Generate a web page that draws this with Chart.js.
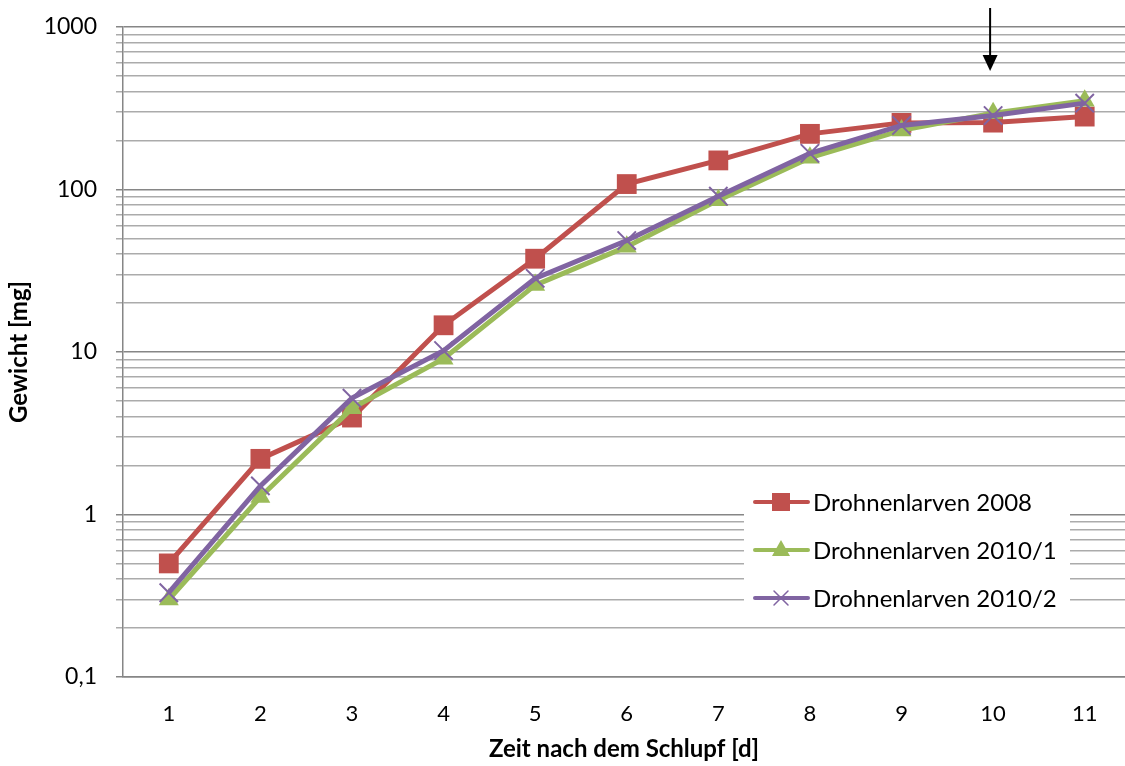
<!DOCTYPE html>
<html>
<head>
<meta charset="utf-8">
<script src="https://cdn.jsdelivr.net/npm/chart.js@4.4.1/dist/chart.umd.min.js"></script>
<style>
  html, body { margin: 0; padding: 0; background: #fff; overflow: hidden; }
</style>
</head>
<body>
<canvas id="growthChart" width="1125" height="766"></canvas>
<script>
// data
const days = [1, 2, 3, 4, 5, 6, 7, 8, 9, 10, 11];
const larven2008 = [0.5, 2.2, 3.95, 14.6, 37.5, 108, 151, 220, 257, 258, 281];
const larven2010a = [0.3, 1.28, 4.5, 9.1, 25.8, 44.5, 86, 157, 231, 295, 352];
const larven2010b = [0.33, 1.5, 5.2, 10.2, 28.4, 48.5, 91, 167, 248, 285, 340];
const seriesNames = ['Drohnenlarven 2008', 'Drohnenlarven 2010/1', 'Drohnenlarven 2010/2'];
const decadeTicks = [0.1, 1, 10, 100, 1000];
const arrowDay = 10;

const RED = '#C0504D', GREEN = '#9BBB59', PURPLE = '#8064A2';

// all log gridlines 1..9 per decade
const allYTicks = [];
for (let i = 0; i < decadeTicks.length - 1; i++) {
  for (let k = 1; k <= 9; k++) allYTicks.push(Number((k * decadeTicks[i]).toPrecision(3)));
}
allYTicks.push(decadeTicks[decadeTicks.length - 1]);

const toPoints = arr => arr.map((v, i) => ({ x: days[i], y: v }));

Chart.defaults.font.family = 'Lato';
Chart.defaults.color = '#000';

function drawMarker(ctx, style, x, y, color) {
  ctx.save();
  ctx.fillStyle = color;
  ctx.strokeStyle = color;
  if (style === 'rect') {
    ctx.fillRect(x - 9, y - 9, 18, 18);
  } else if (style === 'triangle') {
    ctx.beginPath();
    ctx.moveTo(x, y - 10);
    ctx.lineTo(x + 9, y + 6);
    ctx.lineTo(x - 9, y + 6);
    ctx.closePath();
    ctx.fill();
  } else {
    ctx.lineWidth = 1.5;
    ctx.beginPath();
    ctx.moveTo(x - 7, y - 7); ctx.lineTo(x + 7, y + 7);
    ctx.moveTo(x + 7, y - 7); ctx.lineTo(x - 7, y + 7);
    ctx.stroke();
  }
  ctx.restore();
}

// legend box inside the plot + the arrow above day 10
const extras = {
  id: 'extras',
  afterDraw(chart) {
    const ctx = chart.ctx;
    const styles = ['rect', 'triangle', 'crossRot'];
    const colors = [RED, GREEN, PURPLE];
    ctx.save();
    ctx.fillStyle = '#fff';
    ctx.fillRect(744, 482, 326, 132);
    ctx.font = '24px Lato';
    ctx.textBaseline = 'middle';
    ctx.textAlign = 'left';
    seriesNames.forEach((name, i) => {
      const y = 502 + i * 48;
      ctx.strokeStyle = colors[i];
      ctx.lineWidth = 4;
      ctx.lineCap = 'round';
      ctx.beginPath();
      ctx.moveTo(755, y);
      ctx.lineTo(808, y);
      ctx.stroke();
      drawMarker(ctx, styles[i], 781, y, colors[i]);
      ctx.fillStyle = '#000';
      ctx.fillText(name, 813, y + 1);
    });

    const ax = chart.scales.x.getPixelForValue(arrowDay) - 3;
    ctx.strokeStyle = '#000';
    ctx.fillStyle = '#000';
    ctx.lineWidth = 2;
    ctx.lineCap = 'butt';
    ctx.beginPath();
    ctx.moveTo(ax, 8);
    ctx.lineTo(ax, 58);
    ctx.stroke();
    ctx.beginPath();
    ctx.moveTo(ax - 7.5, 55);
    ctx.lineTo(ax + 7.5, 55);
    ctx.lineTo(ax, 71);
    ctx.closePath();
    ctx.fill();
    ctx.restore();
  }
};

const ctx = document.getElementById('growthChart').getContext('2d');
const growthChart = new Chart(ctx, {
  type: 'line',
  data: {
    datasets: [{
      label: seriesNames[0],
      data: toPoints(larven2008),
      borderColor: RED,
      backgroundColor: RED,
      borderWidth: 5,
      pointStyle: 'rect',
      pointRadius: 14,
      pointBorderWidth: 0,
      order: 3
    }, {
      label: seriesNames[1],
      data: toPoints(larven2010a),
      borderColor: GREEN,
      backgroundColor: GREEN,
      borderWidth: 5,
      pointStyle: 'triangle',
      pointRadius: 11.5,
      pointBorderWidth: 0,
      order: 2
    }, {
      label: seriesNames[2],
      data: toPoints(larven2010b),
      borderColor: PURPLE,
      backgroundColor: PURPLE,
      borderWidth: 5,
      pointStyle: 'crossRot',
      pointRadius: 13,
      pointBorderWidth: 2,
      order: 1
    }]
  },
  options: {
    responsive: false,
    animation: false,
    devicePixelRatio: 1,
    layout: { autoPadding: false, padding: { top: 27, left: 0, right: 0, bottom: 0 } },
    plugins: {
      legend: { display: false },
      tooltip: { enabled: false }
    },
    scales: {
      x: {
        type: 'linear',
        min: 0.5,
        max: 11.44,
        afterBuildTicks: scale => { scale.ticks = days.map(v => ({ value: v })); },
        afterFit: scale => {
          scale.height = 89;
          scale.paddingLeft = 0;
          scale.paddingRight = 0;
        },
        grid: { drawOnChartArea: false, drawTicks: false },
        border: { color: '#868686', width: 1.5 },
        ticks: { font: { size: 22 }, padding: 24, maxRotation: 0, autoSkip: false },
        title: {
          display: true,
          text: 'Zeit nach dem Schlupf [d]',
          font: { size: 24, weight: 'bold' },
          padding: { top: 0, bottom: 2 }
        }
      },
      y: {
        type: 'logarithmic',
        min: 0.1,
        max: 1000,
        afterBuildTicks: scale => { scale.ticks = allYTicks.map(v => ({ value: v })); },
        afterFit: scale => {
          scale.width = 123;
          scale.paddingTop = 0;
          scale.paddingBottom = 0;
        },
        grid: {
          color: c => decadeTicks.includes(c.tick.value) ? '#868686' : '#ABABAB',
          lineWidth: 1.5,
          tickLength: 7
        },
        border: { color: '#868686', width: 1.5 },
        ticks: {
          font: { size: 23 },
          padding: 19,
          autoSkip: false,
          callback: v => decadeTicks.includes(v) ? String(v).replace('.', ',') : ''
        },
        title: {
          display: true,
          text: 'Gewicht [mg]',
          font: { size: 24, weight: 'bold' },
          padding: { top: 5, bottom: 0 }
        }
      }
    }
  },
  plugins: [extras]
});
</script>
</body>
</html>
